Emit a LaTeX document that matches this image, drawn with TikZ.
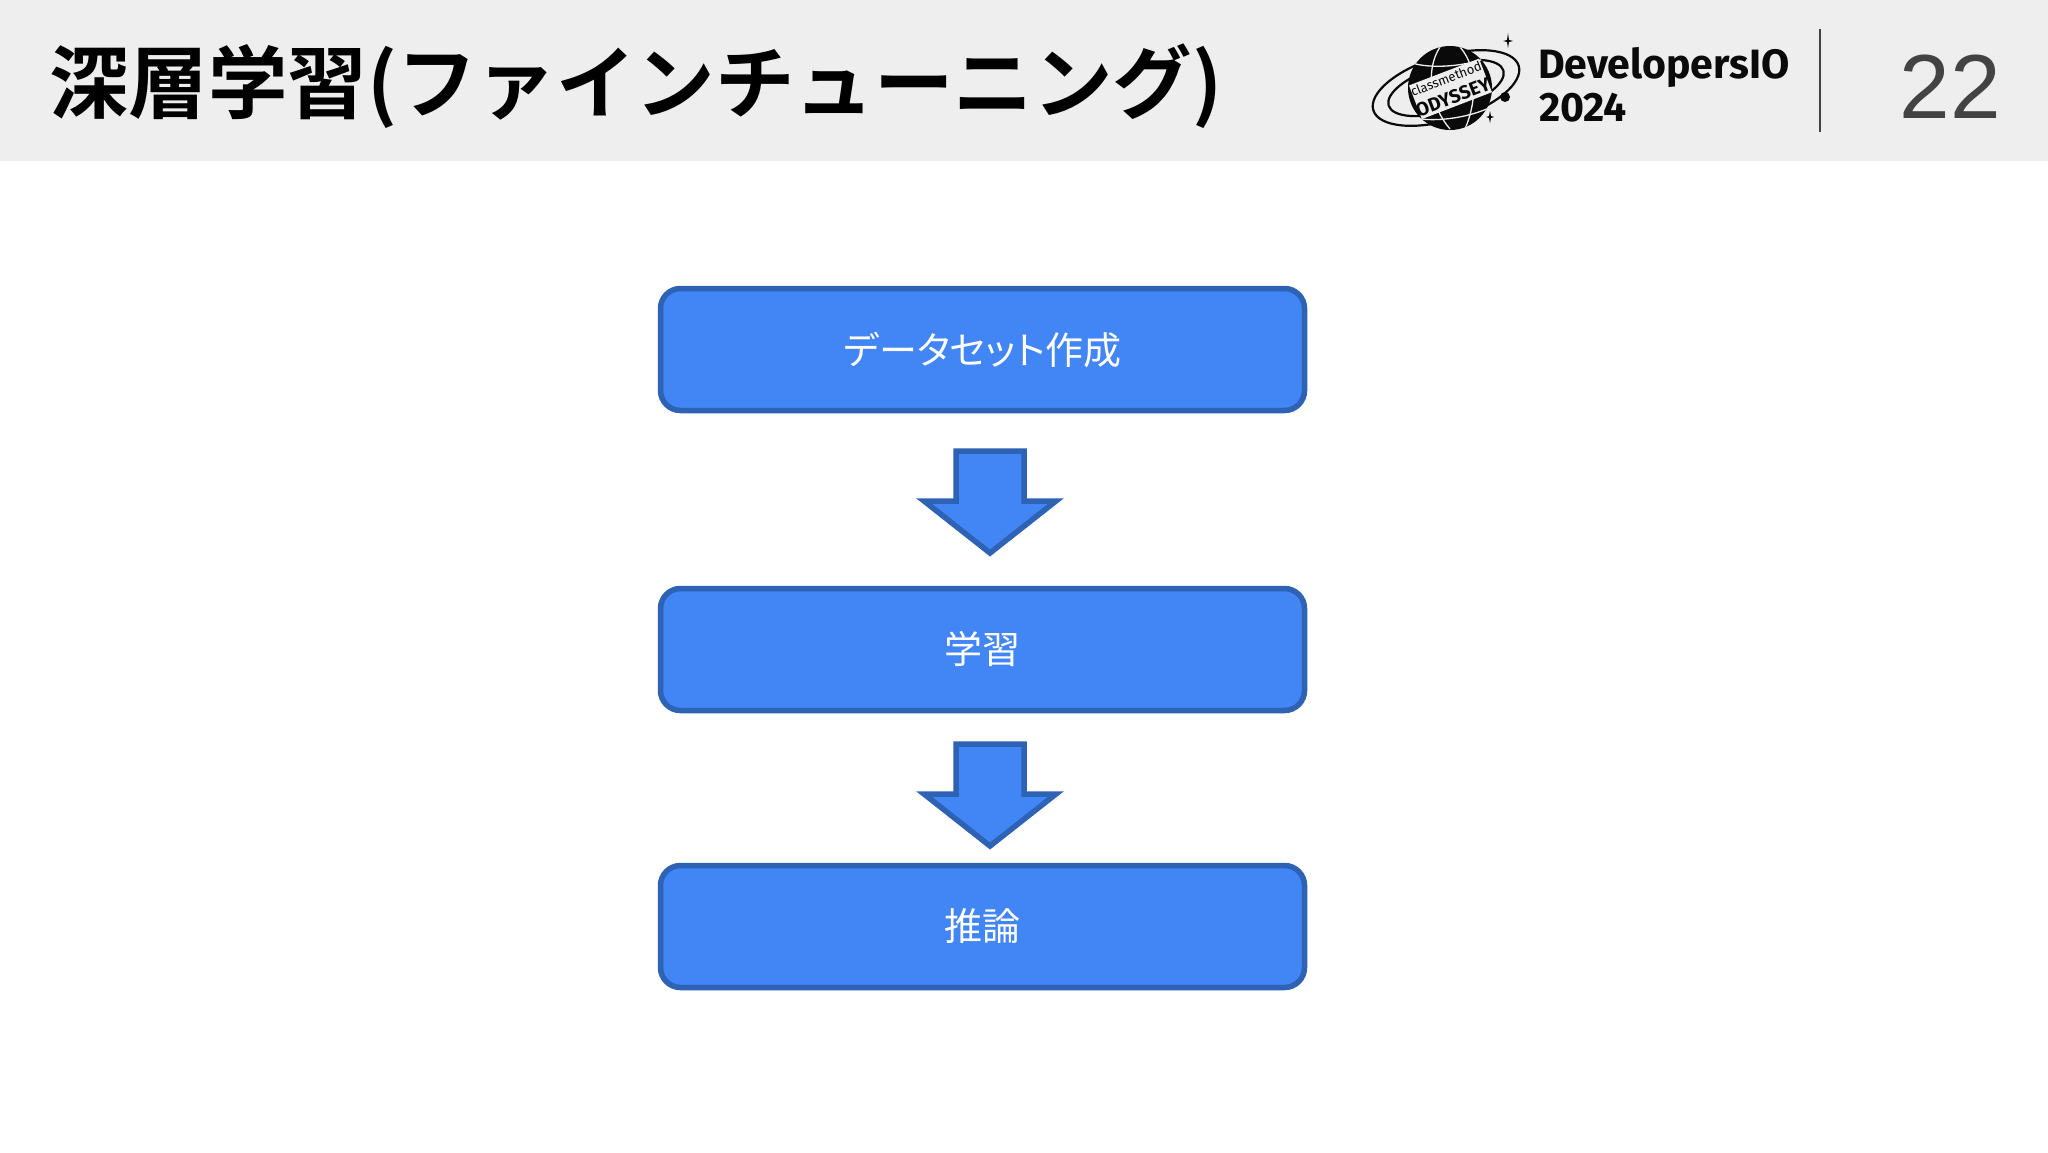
\documentclass[tikz,border=0pt]{standalone}
\usepackage{fontspec}
\setmainfont{Liberation Sans}
\newfontfamily\jpfont[RawFeature=+palt]{Noto Sans CJK JP}
\newfontfamily\jpplain{Noto Sans CJK JP}
\newfontfamily\jpbold{Noto Sans CJK JP Bold}
\newfontfamily\logofont{Fira Sans}
\definecolor{headbg}{HTML}{EEEEEE}
\definecolor{boxfill}{HTML}{4285F4}
\definecolor{boxline}{HTML}{2D62B4}
\definecolor{numgray}{HTML}{434343}
\definecolor{ink}{HTML}{0A0A0A}
\tikzset{
  flowbox/.style={draw=boxline,fill=boxfill,line width=5.5pt,rounded corners=20pt,minimum width=644pt,minimum height=122pt,inner sep=0pt,text=white,font=\jpplain\fontsize{38}{40}\selectfont},
  downarrow/.style={draw=boxline,fill=boxfill,line width=5.5pt,miter limit=10},
  orbit/.style={draw=ink,line width=2.2pt,fill=none},
  gridline/.style={draw=headbg,line width=1.3pt},
  logotext/.style={inner sep=0pt,anchor=west,text=ink,font=\logofont\bfseries\fontsize{41}{43}\selectfont},
}
\begin{document}
\begin{tikzpicture}[x=1pt,y=-1pt]
\useasboundingbox (0,0) rectangle (2048,1152);
\fill[white] (0,0) rectangle (2048,1152);
\fill[headbg] (0,0) rectangle (2048,161);
\node[anchor=west,inner sep=0pt,text=black,font=\jpbold\fontsize{79.5}{82}\selectfont] (title) at (49,86) {深層学習(ファインチューニング)};
% logo
\begin{scope}
\draw[orbit,rotate around={17:(1446,88)}] (1446,88) ellipse [x radius=76,y radius=32];
\draw[orbit,rotate around={17:(1446,88)}] (1446,88) ellipse [x radius=60,y radius=23];
\fill[ink] (1450,88) circle [radius=42];
\begin{scope}
\clip (1450,88) circle [radius=42];
\draw[gridline] (1409,62) .. controls (1430,70) and (1470,66) .. (1491,56);
\draw[gridline] (1407,116) .. controls (1430,124) and (1470,118) .. (1493,106);
\draw[gridline] (1440,47) .. controls (1425,70) and (1430,106) .. (1450,129);
\draw[gridline] (1460,47) .. controls (1480,70) and (1475,106) .. (1465,129);
\end{scope}
\fill[headbg,rotate around={21:(1450,89)}] (1413,71) rectangle (1488,107);
\node[rotate=21,inner sep=0pt,text=ink,font=\logofont\fontsize{13}{13}\selectfont] (logoa) at (1446,79) {classmethod};
\node[rotate=21,inner sep=0pt,text=ink,font=\logofont\bfseries\fontsize{19}{19}\selectfont] (logob) at (1453,97) {ODYSSEY};
\fill[ink] (1505,97) circle [radius=5];
\fill[ink] (1508,33) -- (1509,40) -- (1513,41) -- (1509,42) -- (1508,48) -- (1507,42) -- (1503,41) -- (1507,40) -- cycle;
\fill[ink] (1490,111) -- (1491,116) -- (1494,117) -- (1491,118) -- (1490,123) -- (1489,118) -- (1486,117) -- (1489,116) -- cycle;
\end{scope}
\node[logotext] (devio) at (1538,67) {DevelopersIO};
\node[logotext] (year) at (1539,108) {2024};
\coordinate (divtop) at (1820,29);
\coordinate (divbot) at (1820,132);
\draw[numgray,line width=1.6pt] (divtop) -- (divbot);
\node[inner sep=0pt,text=numgray,font=\fontsize{91}{92}\selectfont] (pagenum) at (1950,87) {22};
% flow
\node[flowbox,font=\jpfont\fontsize{38}{40}\selectfont] (data) at (982.5,349.5) {データセット作成};
\node[flowbox] (train) at (982.5,649.5) {学習};
\node[flowbox] (infer) at (982.5,926.5) {推論};
\draw[downarrow] (956,451) -- (1024,451) -- (1024,501) -- (1056,501) -- (990,553) -- (924,501) -- (956,501) -- cycle;
\draw[downarrow] (956,744) -- (1024,744) -- (1024,794) -- (1056,794) -- (990,846) -- (924,794) -- (956,794) -- cycle;
\end{tikzpicture}
\end{document}
